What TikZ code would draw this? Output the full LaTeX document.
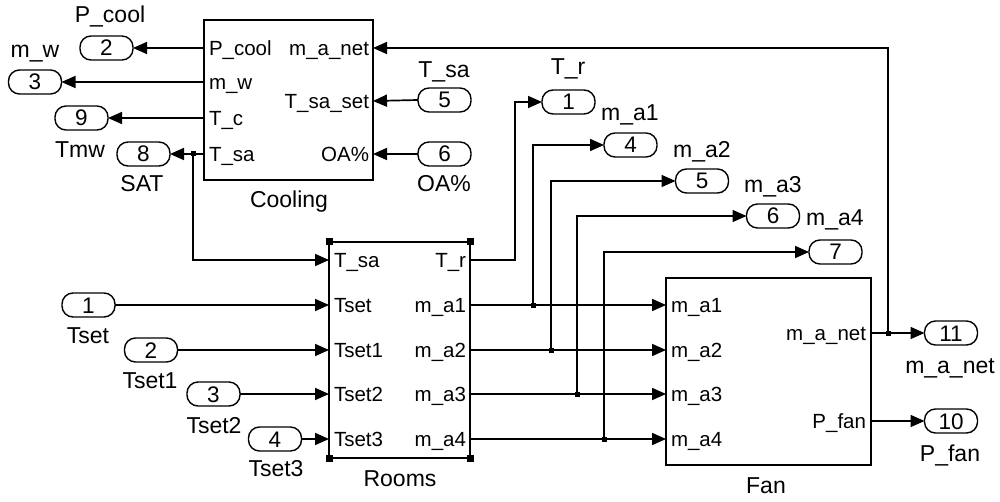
\documentclass[tikz,border=0pt]{standalone}
\usepackage{fontspec}
\setmainfont{Liberation Sans}
\usetikzlibrary{arrows.meta,calc}
\begin{document}
\begin{tikzpicture}[x=1pt,y=-1pt,
 every node/.style={font=\fontsize{23}{27}\selectfont, inner sep=0pt, outer sep=0pt, text height=16pt, text depth=0pt},
 blk/.style={draw, line width=1.7pt, rectangle, anchor=north west},
 oport/.style={draw, line width=1.4pt, rounded corners=11pt, minimum width=53pt, minimum height=24pt, font=\fontsize{22.5}{26}\selectfont},
 wire/.style={line width=1.7pt},
 arr/.style={wire, -{Triangle[length=14pt,width=12pt]}},
 jdot/.style={fill, rectangle, minimum size=5pt, text height=0pt},
 hdl/.style={fill, rectangle, minimum size=7pt, text height=0pt},
 pl/.style={anchor=west, font=\fontsize{20.5}{24}\selectfont, text height=14.5pt},
 pr/.style={anchor=east, font=\fontsize{20.5}{24}\selectfont, text height=14.5pt},
]
\fill[white] (0,0) rectangle (1000,502);
\useasboundingbox (0,0) rectangle (1000,502);

% ---------- blocks ----------
\node[blk, minimum width=169pt, minimum height=160pt] (cool) at (204,20) {};
\node[blk, minimum width=141pt, minimum height=216pt] (rooms) at (329,242) {};
\node[blk, minimum width=205pt, minimum height=187pt] (fan) at (666,278) {};

\node (coolname) at (289,200) {Cooling};
\node (roomsname) at (400,478) {Rooms};
\node (fanname) at (766,485) {Fan};

% rooms selection handles
\node[hdl] (h1) at (rooms.north west) {};
\node[hdl] (h2) at (rooms.north east) {};
\node[hdl] (h3) at (rooms.south west) {};
\node[hdl] (h4) at (rooms.south east) {};

% ---------- port coordinates ----------
\coordinate (cPcool) at (204,48);
\coordinate (cMw) at (204,82);
\coordinate (cTc) at (204,118);
\coordinate (cTsa) at (204,154);
\coordinate (cManet) at (373,48);
\coordinate (cTsaset) at (373,101);
\coordinate (cOA) at (373,154);

\coordinate (rTsa) at (329,260);
\coordinate (rTset) at (329,305);
\coordinate (rTset1) at (329,350);
\coordinate (rTset2) at (329,394);
\coordinate (rTset3) at (329,439);
\coordinate (rTr) at (470,260);
\coordinate (rMa1) at (470,305);
\coordinate (rMa2) at (470,350);
\coordinate (rMa3) at (470,394);
\coordinate (rMa4) at (470,439);

\coordinate (fMa1) at (666,305);
\coordinate (fMa2) at (666,350);
\coordinate (fMa3) at (666,394);
\coordinate (fMa4) at (666,439);
\coordinate (fManet) at (871,333);
\coordinate (fPfan) at (871,421);

% ---------- port labels inside blocks ----------
\node[pl] (lc1) at (209,48) {P\_cool};
\node[pl] (lc2) at (209,82) {m\_w};
\node[pl] (lc3) at (209,118) {T\_c};
\node[pl] (lc4) at (209,154) {T\_sa};
\node[pr] (lc5) at (369,48) {m\_a\_net};
\node[pr] (lc6) at (369,101) {T\_sa\_set};
\node[pr] (lc7) at (369,154) {OA\%};

\node[pl] (lr1) at (334,260) {T\_sa};
\node[pl] (lr2) at (334,305) {Tset};
\node[pl] (lr3) at (334,350) {Tset1};
\node[pl] (lr4) at (334,394) {Tset2};
\node[pl] (lr5) at (334,439) {Tset3};
\node[pr] (lr6) at (466,260) {T\_r};
\node[pr] (lr7) at (466,305) {m\_a1};
\node[pr] (lr8) at (466,350) {m\_a2};
\node[pr] (lr9) at (466,394) {m\_a3};
\node[pr] (lr10) at (466,439) {m\_a4};

\node[pl] (lf1) at (671,305) {m\_a1};
\node[pl] (lf2) at (671,350) {m\_a2};
\node[pl] (lf3) at (671,394) {m\_a3};
\node[pl] (lf4) at (671,439) {m\_a4};
\node[pr] (lf5) at (866,333) {m\_a\_net};
\node[pr] (lf6) at (866,421) {P\_fan};

% ---------- outports / inports (ovals) ----------
\node[oport] (o2) at (106.5,48) {2};
\node (o2l) at (110,15) {P\_cool};
\node[oport] (o3) at (35,82) {3};
\node (o3l) at (35,50) {m\_w};
\node[oport] (o9) at (81.5,118) {9};
\node (o9l) at (80,150) {Tmw};
\node[oport] (o8) at (143.5,154) {8};
\node (o8l) at (142,184) {SAT};

\node[oport] (i5) at (444.5,100) {5};
\node (i5l) at (444,70) {T\_sa};
\node[oport] (i6) at (444.5,154) {6};
\node (i6l) at (444,184) {OA\%};

\node[oport] (o1) at (568.5,102) {1};
\node (o1l) at (568,67) {T\_r};
\node[oport] (o4) at (630.5,145) {4};
\node (o4l) at (630,113) {m\_a1};
\node[oport] (o5) at (702,181) {5};
\node (o5l) at (702,150) {m\_a2};
\node[oport] (o6) at (773,216) {6};
\node (o6l) at (773,185) {m\_a3};
\node[oport] (o7) at (835.5,252) {7};
\node (o7l) at (835,218) {m\_a4};

\node[oport] (i1) at (88.5,305) {1};
\node (i1l) at (88,335) {Tset};
\node[oport] (i2) at (151,350) {2};
\node (i2l) at (150,380) {Tset1};
\node[oport] (i3) at (213.5,394) {3};
\node (i3l) at (214,425) {Tset2};
\node[oport] (i4) at (275,439) {4};
\node (i4l) at (276,468) {Tset3};

\node[oport] (o11) at (951,333) {11};
\node (o11l) at (950,365) {m\_a\_net};
\node[oport] (o10) at (951,421) {10};
\node (o10l) at (950,453) {P\_fan};

% ---------- junctions ----------
\node[jdot] (jSA) at (193,154) {};
\node[jdot] (j1) at (533,305) {};
\node[jdot] (j2) at (551,350) {};
\node[jdot] (j3) at (577,394) {};
\node[jdot] (j4) at (604,439) {};
\node[jdot] (jN) at (888,333) {};

% ---------- wires ----------
\draw[arr] (cPcool) -- (o2.east);
\draw[arr] (cMw) -- (o3.east);
\draw[arr] (cTc) -- (o9.east);
\draw[arr] (cTsa) -- (o8.east);
\draw[arr] (jSA.center) |- (rTsa);

\draw[arr] (i5.west) -- (cTsaset);
\draw[arr] (i6.west) -- (cOA);

\draw[arr] (i1.east) -- (rTset);
\draw[arr] (i2.east) -- (rTset1);
\draw[arr] (i3.east) -- (rTset2);
\draw[arr] (i4.east) -- (rTset3);

\draw[arr] (rTr) -| (515,102) -- (o1.west);
\draw[arr] (rMa1) -- (fMa1);
\draw[arr] (rMa2) -- (fMa2);
\draw[arr] (rMa3) -- (fMa3);
\draw[arr] (rMa4) -- (fMa4);
\draw[arr] (j1.center) |- (o4.west);
\draw[arr] (j2.center) |- (o5.west);
\draw[arr] (j3.center) |- (o6.west);
\draw[arr] (j4.center) |- (o7.west);

\draw[arr] (fManet) -- (o11.west);
\draw[arr] (jN.center) |- (cManet);
\draw[arr] (fPfan) -- (o10.west);
\end{tikzpicture}
\end{document}
